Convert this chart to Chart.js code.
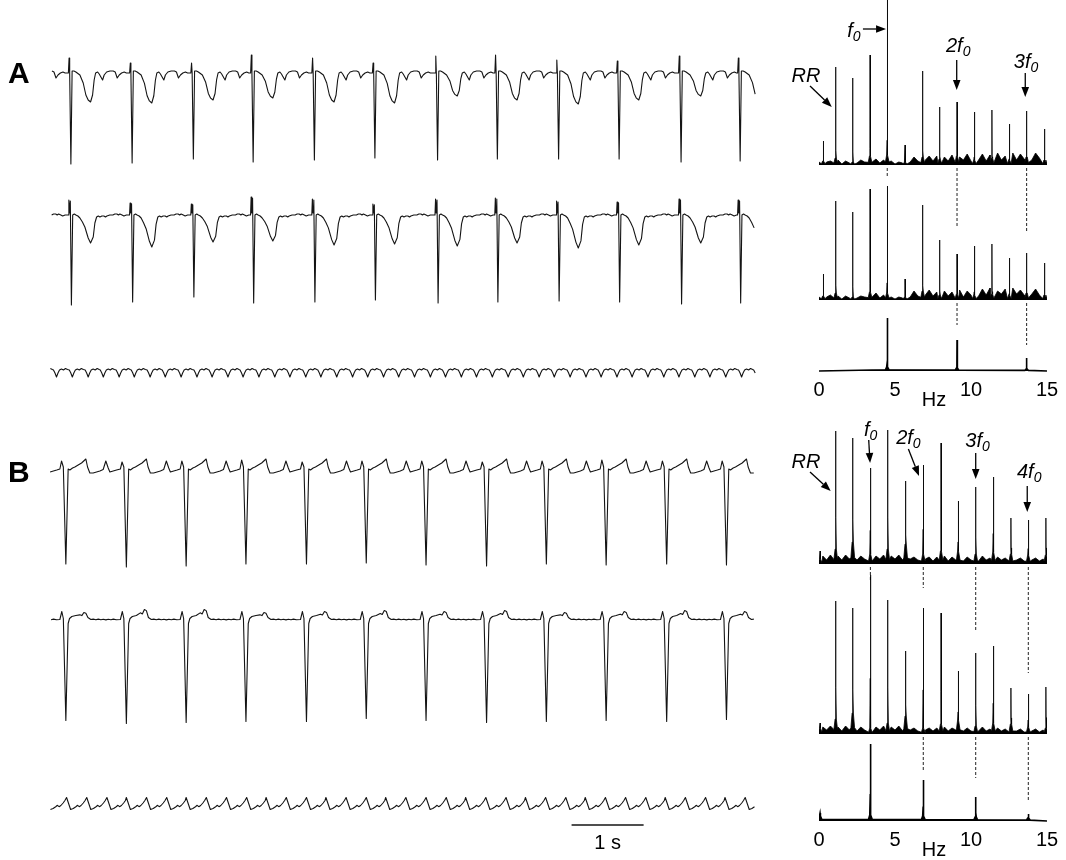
<!DOCTYPE html>
<html>
<head>
<meta charset="utf-8">
<title>Flutter ECG and spectra</title>
<script src="https://cdn.jsdelivr.net/npm/chart.js@4.4.1/dist/chart.umd.min.js"></script>
<style>
  html, body { margin: 0; padding: 0; background: #fff; }
  #page { position: relative; width: 1066px; height: 860px; overflow: hidden; }
  canvas { position: absolute; }
</style>
</head>
<body>
<div id="page">
  <canvas id="traceA" width="756" height="340" style="left:0;top:40px"></canvas>
  <canvas id="specA" width="281" height="420" style="left:785px;top:0"></canvas>
  <canvas id="traceB" width="756" height="420" style="left:0;top:440px"></canvas>
  <canvas id="specB" width="281" height="460" style="left:785px;top:400px"></canvas>
</div>
<script>
// ECG recordings (left) and their spectra (right), panels A and B

const FONT = '"Liberation Sans", Arial, Helvetica, sans-serif';
const T_END = 9.8;          // seconds shown
const FLOOR_STEP = 0.25;    // Hz between noise-floor readings

// ---------- panel A, time traces ----------
// QRS times (s), first one is just before the start of the record
const beatsA = [-0.56, 0.29, 1.14, 1.99, 2.82, 3.67, 4.51, 5.38, 6.21, 7.06, 7.90, 8.76, 9.58];
const rDepthA1 = [88, 91, 90, 86, 89, 87, 85, 87, 86, 86, 86, 89, 88];
const rUpA1 = [14, 15, 10, 10, 18, 15, 10, 17, 18, 13, 12, 17, 15];
const tDipA1 = [27, 29, 30, 27, 25, 29, 30, 23, 27, 31, 27, 23, 28];
const rDepthA2 = [88, 90, 87, 82, 88, 87, 85, 88, 87, 86, 87, 89, 88];
const rUpA2 = [15, 15, 12, 11, 18, 16, 11, 16, 17, 14, 13, 16, 15];
const tDipA2 = [28, 28, 32, 27, 26, 30, 29, 31, 28, 33, 30, 28, 30];
// flutter wave minima of the third trace (s)
const flutterA = [-0.12, 0.09, 0.31, 0.53, 0.74, 0.96, 1.17, 1.39, 1.60, 1.82, 2.04, 2.25, 2.47, 2.68,
  2.90, 3.12, 3.33, 3.55, 3.76, 3.98, 4.20, 4.41, 4.63, 4.84, 5.06, 5.28, 5.49, 5.71, 5.92, 6.14,
  6.36, 6.57, 6.79, 7.00, 7.22, 7.44, 7.65, 7.87, 8.08, 8.30, 8.52, 8.73, 8.95, 9.16, 9.38, 9.60, 9.81];

// one beat shapes: [ms from QRS, amplitude, role]
const beatShapeA1 = [[-35, 0], [-25, 15, 'r'], [-17, 0], [0, -91, 's'], [17, 2], [42, 2], [69, 1],
  [125, -2], [171, -10, 't'], [208, -22, 't'], [240, -27, 't'], [273, -29, 't'], [301, -22, 't'],
  [323, -7, 't'], [343, 0], [371, 1], [393, -1], [440, -7], [462, -2], [496, 1], [542, 2], [587, 2],
  [615, 1], [643, -5], [671, -2], [704, 0], [740, 1], [770, 0]];
const beatShapeA2 = [[-36, 0], [-28, 15, 'r'], [-19, 2], [-8, 14, 'r'], [7, -90, 's'], [25, 0], [47, 1],
  [69, 0], [97, -1], [125, -3], [160, -7, 't'], [194, -12, 't'], [240, -23, 't'], [273, -28, 't'],
  [310, -22, 't'], [333, -8, 't'], [357, -2], [380, -1], [403, -2], [430, -1], [458, -1], [480, -2],
  [500, -1], [540, 0], [583, 0], [610, 1], [639, 1], [660, 0], [680, 1], [710, 0], [736, -1], [770, 0]];
const flutterShapeA = [[-42, 1], [-21, -2], [0, -6], [21, -2], [42, 1], [69, 2], [97, 1], [125, 2.5], [153, 1.5]];

// ---------- panel B, time traces ----------
const beatsB = [-0.61, 0.22, 1.06, 1.89, 2.72, 3.56, 4.39, 5.22, 6.06, 6.89, 7.72, 8.56, 9.39];
const rDepthB1 = [96, 96, 99, 98, 96, 96, 95, 97, 98, 96, 97, 96, 97];
const rUpB1 = [7, 7, 6, 7, 8, 6, 7, 7, 6, 7, 8, 7, 7];
const rDepthB2 = [101, 101, 104, 103, 102, 102, 99, 101, 103, 102, 101, 102, 100];
const tAmpB2 = [8, 7, 10, 10, 7, 8, 9, 8, 9, 7, 8, 9, 8];
// flutter wave maxima of the third trace (s)
const flutterB = [-0.05, 0.23, 0.51, 0.79, 1.06, 1.34, 1.62, 1.89, 2.17, 2.45, 2.73, 3.00, 3.28, 3.56,
  3.83, 4.11, 4.39, 4.66, 4.94, 5.22, 5.50, 5.77, 6.05, 6.33, 6.60, 6.88, 7.16, 7.43, 7.71, 7.99,
  8.27, 8.54, 8.82, 9.10, 9.37, 9.65];

const beatShapeB1 = [[-83, -1], [-60, 7, 'r'], [-35, 1], [0, -96, 's'], [32, -1], [56, -2], [93, 0],
  [125, 1], [171, 3], [218, 5], [278, 9], [301, 1], [333, -5], [379, -5], [426, -4], [472, -3],
  [518, -1.5], [555, 7], [588, 0], [611, -4], [657, -3], [704, -2]];
const beatShapeB2 = [[-83, 0], [-56, 8, 'r'], [-35, 1], [0, -100, 's'], [32, -4], [51, 1], [83, 3],
  [139, 4], [194, 6, 't'], [222, 5, 't'], [250, 9, 't'], [278, 8, 't'], [306, 2], [347, 0], [380, 0.4],
  [417, -0.3], [450, 0.4], [486, -0.3], [520, 0.3], [556, -0.4], [590, 0.3], [625, -0.3], [660, 0.4], [700, -0.2]];
const flutterShapeB = [[0, 6.5], [28, 0.5], [56, -5.5], [93, -4.5], [129, -2.7], [153, -1.3],
  [176, -2.7], [201, -1.5], [232, 1], [257, 3.5]];

// scale bar (s)
const scaleBarStart = 7.24;
const scaleBarLen = 1;

// ---------- spectra ----------
const peakFreqA = [0.28, 1.10, 2.22, 3.36, 4.49, 5.66, 6.82, 7.94, 9.08, 10.22, 11.38, 12.52, 13.66, 14.84];
const peakA1 = [24, 98, 87, 110, 165, 20, 94, 58, 63, 53, 55, 41, 54, 36];
const skirtA1 = [4, 7, 3, 9, 10, 3, 8, 6, 9, 5, 7, 5, 8, 5];
const peakA2 = [26, 99, 88, 111, 114, 21, 95, 60, 46, 54, 56, 42, 47, 37];
const skirtA2 = [4, 7, 3, 8, 7, 3, 9, 5, 6, 5, 6, 5, 7, 5];
const peakFreqA3 = [4.49, 9.08, 13.66];
const peakA3 = [53, 31, 13];
const skirtA3 = [4, 3, 2];
const floorA1 = [3, 7, 3, 4, 2, 5, 1, 4, 2, 4,  2, 5, 3, 7, 3, 6, 2, 5, 2, 4,
  1, 3, 2, 7, 3, 8, 4, 10, 5, 9,  4, 9, 3, 8, 4, 10, 3, 8, 5, 11,
  4, 9, 5, 11, 4, 10, 6, 12, 5, 9,  6, 12, 5, 11, 6, 13, 5, 12, 7, 11,  5];
const floorA2 = [3, 6, 3, 5, 2, 4, 1, 4, 2, 5,  2, 4, 3, 6, 3, 7, 2, 5, 2, 3,
  1, 3, 2, 6, 3, 9, 4, 8, 5, 10,  4, 8, 3, 9, 4, 8, 5, 10, 3, 9,
  5, 10, 4, 11, 5, 12, 4, 9, 6, 11,  5, 12, 6, 10, 5, 13, 6, 11, 5, 10,  5];

const peakFreqB = [0.07, 1.10, 2.22, 3.38, 4.52, 5.70, 6.86, 8.03, 9.16, 10.31, 11.47, 12.63, 13.77, 14.93];
const peakB1 = [13, 133, 126, 96, 134, 83, 99, 121, 63, 77, 87, 46, 44, 46];
const skirtB1 = [5, 15, 22, 10, 15, 20, 10, 13, 13, 10, 12, 10, 9, 9];
const peakB2 = [11, 133, 126, 159, 134, 83, 126, 121, 63, 81, 88, 46, 40, 47];
const skirtB2 = [6, 15, 21, 6, 11, 18, 6, 10, 14, 8, 11, 10, 7, 6];
const peakFreqB3 = [0.07, 3.38, 6.86, 10.31, 13.77];
const peakB3 = [8, 77, 41, 24, 7];
const skirtB3 = [5, 6, 5, 4, 3];
const floorB1 = [4, 8, 4, 9, 5, 8, 4, 9, 5, 7,  4, 8, 5, 9, 4, 8, 5, 9, 4, 8,
  5, 9, 4, 8, 5, 7, 4, 8, 5, 7,  3, 7, 4, 8, 3, 7, 4, 8, 3, 7,
  4, 7, 3, 8, 4, 6, 3, 7, 4, 6,  3, 7, 4, 6, 3, 7, 4, 6, 3, 5,  3];
const floorB2 = [3, 7, 4, 8, 4, 7, 3, 8, 4, 6,  3, 7, 4, 8, 3, 7, 4, 8, 3, 7,
  4, 8, 3, 7, 4, 6, 3, 7, 4, 6,  3, 6, 3, 7, 3, 6, 4, 7, 3, 6,
  3, 6, 3, 7, 3, 5, 3, 6, 3, 5,  2, 6, 3, 5, 2, 6, 3, 5, 2, 4,  2];

// dashed guides at the f0 harmonics: freq, length under spectrum 1, under spectrum 2
const guideFreqA = [4.49, 9.08, 13.66];
const guideUpperA = [10, 60, 65];
const guideLowerA = [0, 22, 42];
const guideFreqB = [3.38, 6.86, 10.31, 13.77];
const guideUpperB = [13, 21, 65, 106];
const guideLowerB = [0, 33, 41, 63];

// labels with arrows, in spectrum units (Hz, amplitude)
const annotA = [
  { main: 'RR', sub: '', tx: -0.855, ty: 289, from: [-0.59, 285], to: [0.84, 264] },
  { main: 'f', sub: '0', tx: 2.30, ty: 334, from: [2.89, 342], to: [4.41, 342] },
  { main: '2f', sub: '0', tx: 9.16, ty: 319, from: [9.06, 311], to: [9.06, 281] },
  { main: '3f', sub: '0', tx: 13.62, ty: 303, from: [13.57, 298], to: [13.57, 274] }
];
const annotB = [
  { main: 'RR', sub: '', tx: -0.855, ty: 353, from: [-0.59, 349], to: [0.77, 330] },
  { main: 'f', sub: '0', tx: 3.40, ty: 385, from: [3.27, 381], to: [3.36, 358] },
  { main: '2f', sub: '0', tx: 5.88, ty: 377, from: [5.88, 372], to: [6.58, 345] },
  { main: '3f', sub: '0', tx: 10.43, ty: 374, from: [10.31, 368], to: [10.31, 342] },
  { main: '4f', sub: '0', tx: 13.83, ty: 343, from: [13.70, 335], to: [13.70, 309] }
];

// ---------- builders ----------

function buildTrace(times, shape, base, amp) {
  const ref = {};
  shape.forEach(([, v, r]) => { if (r) ref[r] = Math.max(ref[r] || 0, Math.abs(v)); });
  const pts = [];
  times.forEach((t0, i) => {
    shape.forEach(([ms, v, r]) => {
      const x = t0 + ms / 1000;
      if (x < 0 || x > T_END) return;
      const k = (r && amp && amp[r]) ? amp[r][i] / ref[r] : 1;
      pts.push({ x: x, y: base + v * k });
    });
  });
  return pts;
}

function buildSpectrum(floor, freqs, heights, skirts, base, core) {
  const pts = [];
  const grid = floor ? floor.map((v, k) => [k * FLOOR_STEP, v]) : [[0, 0], [15, 0]];
  grid.forEach(([f, v]) => {
    if (freqs.every(p => Math.abs(p - f) > 0.13)) pts.push({ x: f, y: base + v });
  });
  freqs.forEach((f, i) => {
    const h = heights[i], s = skirts[i];
    const c = Math.max(s, h * core);
    [[-0.12, s * 0.3], [-0.04, s], [-0.008, c], [0, h], [0.008, c], [0.04, s], [0.12, s * 0.3]]
      .forEach(([df, v]) => pts.push({ x: f + df, y: base + v }));
  });
  pts.sort((a, b) => a.x - b.x);
  return pts;
}

function buildGuides(freqs, upper, lower, base1, base2) {
  const pts = [];
  freqs.forEach((f, i) => {
    if (upper[i]) pts.push({ x: f, y: base1 - 3 }, { x: f, y: base1 - 3 - upper[i] }, { x: f, y: null });
    if (lower[i]) pts.push({ x: f, y: base2 - 3 }, { x: f, y: base2 - 3 - lower[i] }, { x: f, y: null });
  });
  return pts;
}

function lineSet(data, width) {
  return { data: data, borderColor: '#141414', borderWidth: width || 1.1, pointRadius: 0,
    tension: 0, fill: false, borderJoinStyle: 'round' };
}

function specSet(data, base, width) {
  return { data: data, borderColor: '#000', backgroundColor: '#000', borderWidth: width || 0.8,
    pointRadius: 0, tension: 0, fill: { value: base } };
}

function guideSet(data) {
  return { data: data, borderColor: '#222', borderWidth: 1, borderDash: [3, 2],
    pointRadius: 0, fill: false, spanGaps: false };
}

function drawArrow(ctx, x1, y1, x2, y2) {
  const a = Math.atan2(y2 - y1, x2 - x1), L = 10, W = 3.8;
  const bx = x2 - L * Math.cos(a), by = y2 - L * Math.sin(a);
  ctx.lineWidth = 1.3;
  ctx.beginPath(); ctx.moveTo(x1, y1); ctx.lineTo(bx, by); ctx.stroke();
  ctx.beginPath();
  ctx.moveTo(x2, y2);
  ctx.lineTo(bx + W * Math.sin(a), by - W * Math.cos(a));
  ctx.lineTo(bx - W * Math.sin(a), by + W * Math.cos(a));
  ctx.closePath(); ctx.fill();
}

function drawLabel(ctx, main, sub, cx, by) {
  const big = 'italic 20px ' + FONT, small = 'italic 14px ' + FONT;
  ctx.font = big;
  const w1 = ctx.measureText(main).width;
  ctx.font = small;
  const w2 = sub ? ctx.measureText(sub).width : 0;
  const x0 = cx - (w1 + w2) / 2;
  ctx.textAlign = 'left';
  ctx.textBaseline = 'alphabetic';
  ctx.font = big;
  ctx.fillText(main, x0, by);
  if (sub) { ctx.font = small; ctx.fillText(sub, x0 + w1, by + 4); }
}

function spectrumDecor(annots, hzFreq) {
  return {
    id: 'spectrumDecor',
    afterDatasetsDraw(chart) {
      const { ctx, chartArea } = chart;
      const x = chart.scales.x, y = chart.scales.y;
      ctx.save();
      ctx.fillStyle = '#000';
      ctx.strokeStyle = '#000';
      annots.forEach(a => {
        drawLabel(ctx, a.main, a.sub, x.getPixelForValue(a.tx), y.getPixelForValue(a.ty));
        drawArrow(ctx, x.getPixelForValue(a.from[0]), y.getPixelForValue(a.from[1]),
          x.getPixelForValue(a.to[0]), y.getPixelForValue(a.to[1]));
      });
      ctx.font = '20px ' + FONT;
      ctx.textAlign = 'center';
      ctx.textBaseline = 'middle';
      ctx.fillText('Hz', x.getPixelForValue(hzFreq), chartArea.bottom + 27);
      ctx.restore();
    }
  };
}

function panelDecor(letter, letterY, bar) {
  return {
    id: 'panelDecor',
    afterDatasetsDraw(chart) {
      const { ctx, chartArea } = chart;
      const x = chart.scales.x, y = chart.scales.y;
      ctx.save();
      ctx.fillStyle = '#000';
      ctx.textAlign = 'left';
      ctx.textBaseline = 'alphabetic';
      ctx.font = 'bold 30px ' + FONT;
      ctx.fillText(letter, chartArea.left - 42, y.getPixelForValue(letterY));
      if (bar) {
        ctx.font = '20px ' + FONT;
        ctx.textAlign = 'center';
        ctx.fillText('1 s', x.getPixelForValue(bar.start + bar.len / 2), y.getPixelForValue(bar.labelY));
      }
      ctx.restore();
    }
  };
}

function traceOptions(yMax) {
  return {
    responsive: false, animation: false,
    layout: { padding: { left: 50, right: 0, top: 0, bottom: 0 } },
    plugins: { legend: { display: false }, tooltip: { enabled: false } },
    scales: {
      x: { type: 'linear', display: false, min: 0, max: T_END },
      y: { display: false, min: 0, max: yMax }
    }
  };
}

function specOptions(yMax, padBottom) {
  return {
    responsive: false, animation: false,
    layout: { padding: { left: 34, right: 19, top: 0, bottom: padBottom } },
    plugins: { legend: { display: false }, tooltip: { enabled: false } },
    scales: {
      x: {
        type: 'linear', min: 0, max: 15,
        grid: { display: false, drawTicks: false },
        border: { display: false },
        ticks: { stepSize: 5, padding: 5, color: '#000', maxRotation: 0, font: { family: FONT, size: 20 } }
      },
      y: { display: false, min: -2, max: yMax }
    }
  };
}

// ---------- charts ----------

new Chart(document.getElementById('traceA'), {
  type: 'line',
  data: { datasets: [
    lineSet(buildTrace(beatsA, beatShapeA1, 307, { s: rDepthA1, r: rUpA1, t: tDipA1 })),
    lineSet(buildTrace(beatsA, beatShapeA2, 165, { s: rDepthA2, r: rUpA2, t: tDipA2 })),
    lineSet(buildTrace(flutterA, flutterShapeA, 9))
  ] },
  options: traceOptions(340),
  plugins: [panelDecor('A', 297)]
});

new Chart(document.getElementById('traceB'), {
  type: 'line',
  data: { datasets: [
    lineSet(buildTrace(beatsB, beatShapeB1, 392, { s: rDepthB1, r: rUpB1 })),
    lineSet(buildTrace(beatsB, beatShapeB2, 240.5, { s: rDepthB2, t: tAmpB2 })),
    lineSet(buildTrace(flutterB, flutterShapeB, 56)),
    lineSet([{ x: scaleBarStart, y: 35 }, { x: scaleBarStart + scaleBarLen, y: 35 }], 1.6)
  ] },
  options: traceOptions(420),
  plugins: [panelDecor('B', 378, { start: scaleBarStart, len: scaleBarLen, labelY: 11 })]
});

new Chart(document.getElementById('specA'), {
  type: 'line',
  data: { datasets: [
    specSet(buildSpectrum(floorA1, peakFreqA, peakA1, skirtA1, 206, 0.15), 206),
    specSet(buildSpectrum(floorA2, peakFreqA, peakA2, skirtA2, 71, 0.15), 71),
    specSet(buildSpectrum(null, peakFreqA3, peakA3, skirtA3, 0, 0.15), 0, 1.6),
    guideSet(buildGuides(guideFreqA, guideUpperA, guideLowerA, 206, 71))
  ] },
  options: specOptions(371, 13),
  plugins: [spectrumDecor(annotA, 7.57)]
});

new Chart(document.getElementById('specB'), {
  type: 'line',
  data: { datasets: [
    specSet(buildSpectrum(floorB1, peakFreqB, peakB1, skirtB1, 257, 0.35), 257),
    specSet(buildSpectrum(floorB2, peakFreqB, peakB2, skirtB2, 87, 0.35), 87),
    specSet(buildSpectrum(null, peakFreqB3, peakB3, skirtB3, 0, 0.35), 0, 1.6),
    guideSet(buildGuides(guideFreqB, guideUpperB, guideLowerB, 257, 87))
  ] },
  options: specOptions(421, 3),
  plugins: [spectrumDecor(annotB, 7.57)]
});
</script>
</body>
</html>
